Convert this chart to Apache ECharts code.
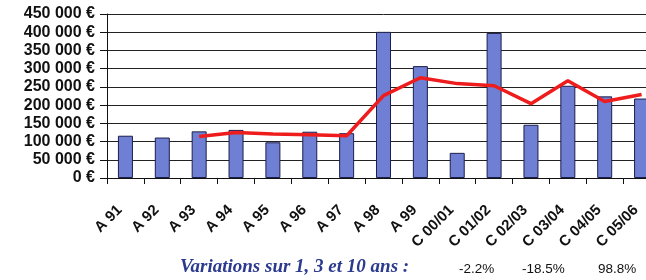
<!DOCTYPE html>
<html>
<head>
<meta charset="utf-8">
<script src="https://cdn.jsdelivr.net/npm/echarts@6/dist/echarts.min.js"></script>
<style>
html,body{margin:0;padding:0;background:#fff;overflow:hidden;width:646px;height:280px;}
#c{width:662px;height:280px;}
</style>
</head>
<body>
<div id="c"></div>
<script>
var categories = ['A 91','A 92','A 93','A 94','A 95','A 96','A 97','A 98','A 99','C 00/01','C 01/02','C 02/03','C 03/04','C 04/05','C 05/06'];
var barValues = [116000,111000,128000,132000,98000,127000,123000,401000,307000,69000,398000,146000,253000,224000,218000];
var lineValues = [null,null,114000,125000,121000,119000,116000,226000,275000,259000,253000,204000,267000,210000,229000];
var yTicks = [0,50000,100000,150000,200000,250000,300000,350000,400000,450000];
var footTitle = 'Variations sur 1, 3 et 10 ans :';
var footValues = ['-2.2%','-18.5%','98.8%'];

function fmt(v){
  var s = String(v);
  if (v >= 1000) { s = String(Math.floor(v/1000)) + ' ' + String(v%1000).padStart(3,'0'); }
  return s + ' €';
}

var chart = echarts.init(document.getElementById('c'));
chart.setOption({
  animation:false,
  grid:{left:107, top:14, width:553, height:164},
  xAxis:{
    type:'category', data:categories,
    axisLine:{lineStyle:{color:'#111',width:1}},
    axisTick:{show:true,alignWithLabel:false,length:6,lineStyle:{color:'#111'}},
    axisLabel:{rotate:45,interval:0,margin:24,padding:[0,8,0,0],
      fontFamily:'Liberation Sans, Arial',fontWeight:'bold',fontSize:15,color:'#111'}
  },
  yAxis:{
    type:'value', min:yTicks[0], max:yTicks[yTicks.length-1], interval:50000,
    axisLine:{show:true,lineStyle:{color:'#111',width:1}},
    axisTick:{show:true,length:7,lineStyle:{color:'#111'}},
    splitLine:{lineStyle:{color:'#222',width:1}},
    axisLabel:{formatter:fmt,margin:12,fontFamily:'Liberation Sans, Arial',fontWeight:'bold',fontSize:16,color:'#111'}
  },
  series:[
    {type:'bar',data:barValues,barWidth:15,
     itemStyle:{color:'#6E7FD4',borderColor:'#1c1f4a',borderWidth:1}},
    {type:'line',data:lineValues,symbol:'none',connectNulls:false,
     lineStyle:{color:'#EE1C1C',width:3.5}}
  ],
  graphic:[
    {type:'text',left:180,top:258,style:{text:footTitle,font:'italic bold 19px "Liberation Serif", "Times New Roman", serif',fill:'#2B3A8E'}},
    {type:'text',left:459,top:262,style:{text:footValues[0],font:'13.5px "Liberation Sans", Arial',fill:'#111'}},
    {type:'text',left:522,top:262,style:{text:footValues[1],font:'13.5px "Liberation Sans", Arial',fill:'#111'}},
    {type:'text',left:598,top:262,style:{text:footValues[2],font:'13.5px "Liberation Sans", Arial',fill:'#111'}}
  ]
});
</script>
</body>
</html>
